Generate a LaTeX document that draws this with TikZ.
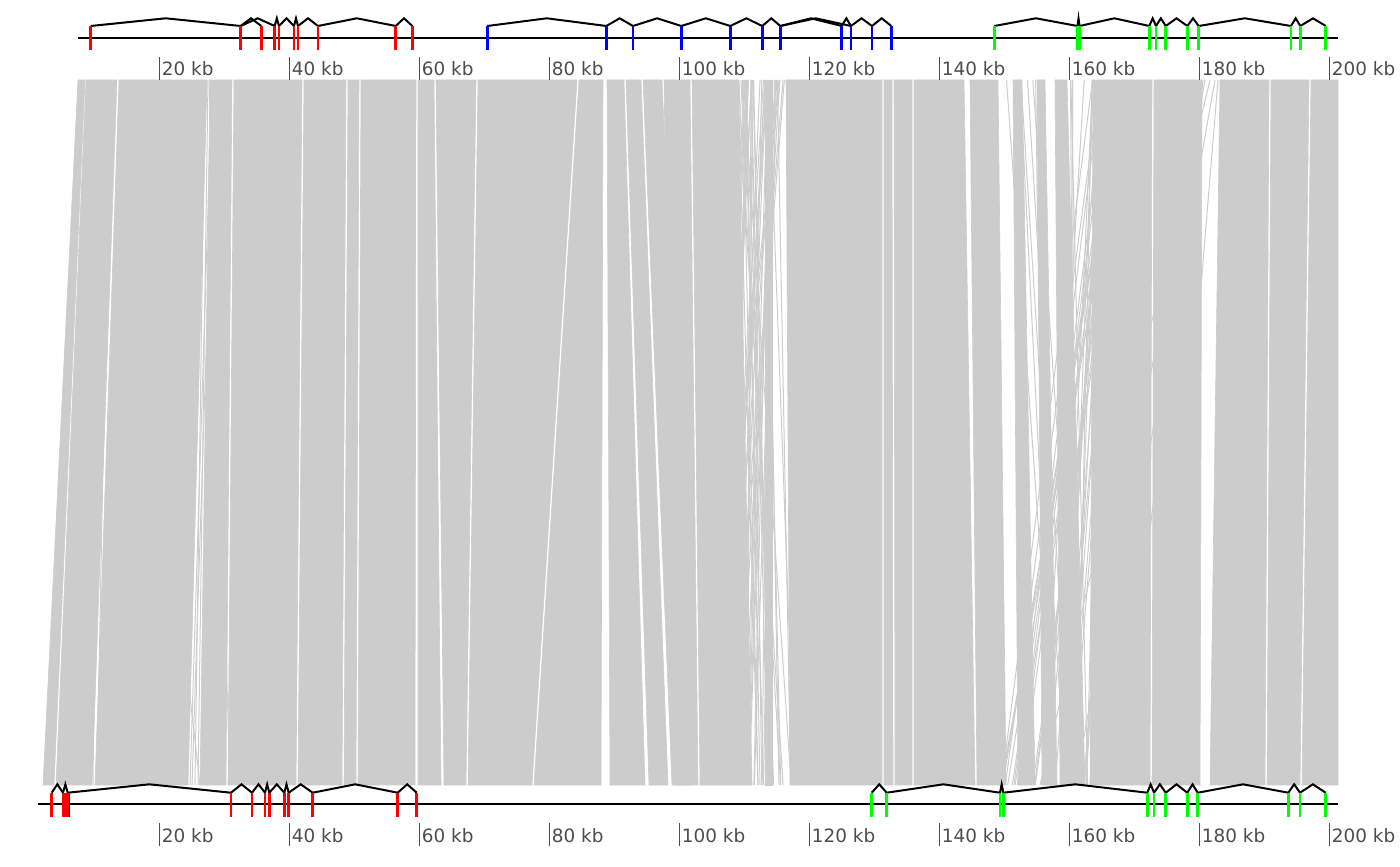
\documentclass[tikz,border=0pt]{standalone}
\usepackage{fontspec}
\setmainfont{DejaVu Sans}
\begin{document}
\begin{tikzpicture}[x=0.5pt,y=-0.5pt]
\definecolor{linkgray}{HTML}{CCCCCC}
\definecolor{axisgray}{HTML}{4D4D4D}
\definecolor{genered}{HTML}{FF0000}
\definecolor{geneblue}{HTML}{0000FF}
\definecolor{genegreen}{HTML}{00FF00}
\tikzset{
  linkblock/.style={fill=linkgray,draw=linkgray,line width=0.3pt},
  linkthin/.style={draw=linkgray,line width=0.5pt},
  backbone/.style={draw=black,line width=0.9pt},
  intron/.style={draw=black,line width=1pt,line join=miter},
  geneline/.style={line width=1.4pt},
  tickline/.style={draw=axisgray,line width=0.9pt},
  ticklabel/.style={anchor=west,inner sep=0pt,text=axisgray,font=\fontsize{9.2}{10}\selectfont},
}
\useasboundingbox (0,0) rectangle (1400,866);
% ---------------- links ----------------
\foreach \a/\b/\c/\d in {
  78/85/43/54, 86/117/56/92, 119/207/95/188, 210/232/200/226,
  234/302/228/296, 304/346/298/342, 348/359/344/356, 361/416/358/415,
  418/434/418/441, 436/476/444/466, 478/577/468/532, 579/603/534/601,
  607/624/610/645, 626/641/649/668, 643/662/672/692, 664/690/675/698,
  692/738/700/752, 765/772/765/772,
  786/882/790/882, 884/892/884/893, 894/912/895/912, 914/964/914/975,
  970/998/977/1006, 1013/1022/1018/1035, 1037/1045/1042/1057,
  1055/1067/1060/1085, 1093/1152/1090/1150, 1154/1202/1152/1200,
  1220/1269/1210/1265, 1271/1309/1267/1300, 1311/1338/1302/1338}
{
  \fill[linkblock] (\a,80) -- (\b,80) -- (\d,785) -- (\c,785) -- cycle;
}
% thin crossing links
\pgfmathsetseed{11}
\foreach \i in {1,...,55} {
  \pgfmathsetmacro{\t}{736+50*rnd}
  \pgfmathsetmacro{\u}{700+100*rnd}
  \draw[linkthin] (\t,80) -- (\u,785);
}
\foreach \i in {1,...,35} {
  \pgfmathsetmacro{\t}{1092+45*rnd}
  \pgfmathsetmacro{\u}{1000+88*rnd}
  \draw[linkthin] (\t,80) -- (\u,785);
}
\foreach \i in {1,...,12} {
  \pgfmathsetmacro{\t}{1000+85*rnd}
  \pgfmathsetmacro{\u}{1040+50*rnd}
  \draw[linkthin] (\t,80) -- (\u,785);
}
\foreach \t/\u in {1205/1075, 1210/1040, 1215/1090, 1203/1120, 1218/1160,
  205/195, 212/190, 208/198, 209/230, 215/192, 120/200, 100/93, 110/97}
{
  \draw[linkthin] (\t,80) -- (\u,785);
}
% ---------------- top track ----------------
\draw[backbone] (78,38) -- (1338,38);
\foreach \p/\q in {90.7/240.7, 240.7/261.3, 240.7/274.7, 274.7/279, 279/294,
  294/298, 298/318, 318/395.7, 395.7/412.3,
  487.3/606.3, 606.3/633, 633/681.3, 681.3/730.3, 730.3/762.3, 762.3/780.3,
  780.3/841.7, 780.3/851, 841.7/851, 851/872, 872/891.3,
  994.3/1077.5, 1077.5/1079.5, 1079.5/1149.3, 1149.3/1156, 1156/1165.7,
  1165.7/1187.3, 1187.3/1198.7, 1198.7/1291, 1291/1300.3, 1300.3/1325.7}
{
  \draw[intron] (\p,26) -- ({(\p+\q)/2},18.3) -- (\q,26);
}
\foreach \x in {90.7, 240.7, 261.3, 274.7, 279, 294, 298, 318, 395.7, 412.3}
  \draw[geneline,genered] (\x,26) -- (\x,50);
\foreach \x in {487.3, 606.3, 633, 681.3, 730.3, 762.3, 780.3, 841.7, 851, 872, 891.3}
  \draw[geneline,geneblue] (\x,26) -- (\x,50);
\foreach \x in {994.3, 1077.5, 1079.5, 1149.3, 1156, 1165.7, 1187.3, 1198.7, 1291, 1300.3, 1325.7}
  \draw[geneline,genegreen] (\x,26) -- (\x,50);
% ---------------- bottom track ----------------
\draw[backbone] (38,804) -- (1338,804);
\foreach \p/\q in {51.7/63, 63/67.7, 67.7/231, 231/252, 252/265, 265/269.3,
  269.3/284.3, 284.3/288.7, 288.7/312.7, 312.7/397.7, 397.7/416.7,
  871.7/886.7, 886.7/1000, 1000/1003.3, 1003.3/1147.3, 1147.3/1154,
  1154/1165.7, 1165.7/1187.3, 1187.3/1197.7, 1197.7/1288.3, 1288.3/1300,
  1300/1325.7}
{
  \draw[intron] (\p,792.7) -- ({(\p+\q)/2},784.3) -- (\q,792.7);
}
\draw[geneline,geneblue] (68.8,792.7) -- (68.8,816.7);
\foreach \x in {51.7, 63, 65.7, 67.7, 231, 252, 265, 269.3, 284.3, 288.7, 312.7, 397.7, 416.7}
  \draw[geneline,genered] (\x,792.7) -- (\x,816.7);
\foreach \x in {871.7, 886.7, 1000, 1003.3, 1147.3, 1154, 1165.7, 1187.3, 1197.7, 1288.3, 1300, 1325.7}
  \draw[geneline,genegreen] (\x,792.7) -- (\x,816.7);
% ---------------- axes ----------------
\foreach \k [count=\i] in {20,40,60,80,100,120,140,160,180,200} {
  \pgfmathsetmacro{\tx}{29.5+130*\i}
  \draw[tickline] (\tx,57) -- (\tx,80);
  \node[ticklabel] (topl\i) at (\tx+2,69) {\k\ kb};
  \draw[tickline] (\tx,823) -- (\tx,846);
  \node[ticklabel] (botl\i) at (\tx+2,836) {\k\ kb};
}
\end{tikzpicture}
\end{document}
